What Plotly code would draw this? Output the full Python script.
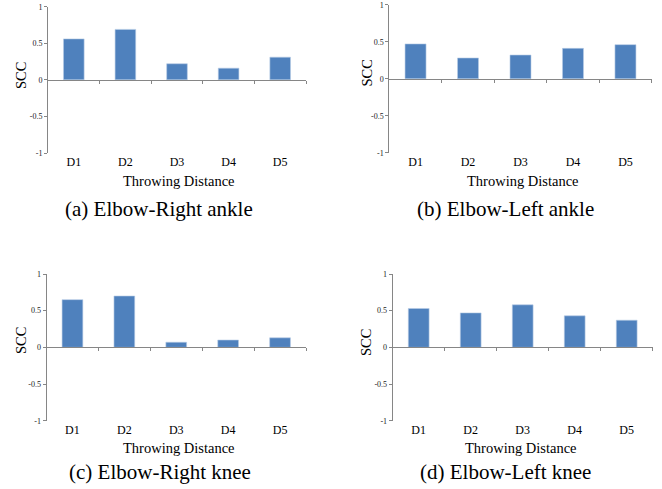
import plotly.graph_objects as go

categories = ["D1", "D2", "D3", "D4", "D5"]
right_ankle = [0.56, 0.69, 0.22, 0.16, 0.31]
left_ankle = [0.47, 0.28, 0.32, 0.41, 0.46]
right_knee = [0.65, 0.70, 0.07, 0.10, 0.13]
left_knee = [0.53, 0.47, 0.58, 0.43, 0.37]
captions = ["(a) Elbow-Right ankle", "(b) Elbow-Left ankle",
            "(c) Elbow-Right knee", "(d) Elbow-Left knee"]
y_tickvals = [-1, -0.5, 0, 0.5, 1]
y_ticktext = ["-1", "-0.5", "0", "0.5", "1"]
x_axis_title = "Throwing Distance"
y_axis_title = "SCC"

W, H = 662, 489
FONT = "Liberation Serif, Times New Roman, serif"
BAR = "#4F81BD"
AX = "#868686"

series = [right_ankle, left_ankle, right_knee, left_knee]
# pixel boxes for each panel: (left, right, top, bottom)
boxes = [(48, 306, 6.7, 153), (389.3, 651.7, 4.7, 152.7),
         (46.5, 306, 274, 420.7), (392.7, 652.7, 274, 420.7)]
xtitle_pos = [(179, 180.5), (523, 180.5), (179, 447.5), (521, 448)]
ytitle_pos = [(21, 76), (366.5, 73), (21, 341), (366, 342)]
cap_pos = [(159, 208.5), (505, 208.5), (159.5, 471.5), (505, 471.5)]

fig = go.Figure()
layout = dict(width=W, height=H, margin=dict(l=0, r=0, t=0, b=0, autoexpand=False),
              template="none",
              paper_bgcolor="white", plot_bgcolor="white",
              showlegend=False, bargap=0.6, annotations=[])

for i, (vals, box) in enumerate(zip(series, boxes)):
    n = i + 1
    l, r, t, b = box
    xd = [l / W, r / W]
    yd = [1 - b / H, 1 - t / H]
    fig.add_trace(go.Bar(x=categories, y=vals, marker_color=BAR,
                         marker_line=dict(color="#B9CDE5", width=0.6),
                         xaxis=f"x{n}", yaxis=f"y{n}"))
    layout[f"xaxis{n}"] = dict(domain=xd, anchor=f"y{n}", range=[-0.5, 4.5],
                              automargin=False,
                              showline=False, showgrid=False, zeroline=False,
                              ticks="", tickfont=dict(family=FONT, size=12, color="black"),
                              fixedrange=True)
    layout[f"yaxis{n}"] = dict(domain=yd, anchor=f"x{n}", range=[-1, 1],
                              automargin=False,
                              tickvals=y_tickvals, ticktext=y_ticktext,
                              showline=True, linecolor=AX, linewidth=1,
                              ticks="outside", ticklen=3, tickcolor=AX,
                              showgrid=False, zeroline=False,
                              tickfont=dict(family=FONT, size=8, color="#222"))
    # category axis crossing at zero with boundary ticks
    m = n + 4
    layout[f"xaxis{m}"] = dict(overlaying=f"x{n}", anchor="free",
                              position=(yd[0] + yd[1]) / 2, type="linear",
                              range=[-0.5, 4.5], automargin=False,
                              tickvals=[0.5, 1.5, 2.5, 3.5, 4.5],
                              showticklabels=False, ticks="outside", ticklen=3,
                              tickcolor=AX, showline=True, linecolor=AX,
                              linewidth=1, showgrid=False, zeroline=False)
    fig.add_trace(go.Scatter(x=[None], y=[None], xaxis=f"x{m}", yaxis=f"y{n}",
                             hoverinfo="skip", showlegend=False))
    xt, yt = xtitle_pos[i]
    layout["annotations"].append(dict(text=x_axis_title, x=xt / W, y=1 - yt / H,
                                      xref="paper", yref="paper", showarrow=False,
                                      xanchor="center", yanchor="middle",
                                      font=dict(family=FONT, size=14.5, color="black")))
    sx, sy = ytitle_pos[i]
    layout["annotations"].append(dict(text=y_axis_title, x=sx / W, y=1 - sy / H,
                                      xref="paper", yref="paper", showarrow=False,
                                      textangle=-90, xanchor="center", yanchor="middle",
                                      font=dict(family=FONT, size=14.5, color="black")))
    cx, cy = cap_pos[i]
    layout["annotations"].append(dict(text=captions[i], x=cx / W, y=1 - cy / H,
                                      xref="paper", yref="paper", showarrow=False,
                                      xanchor="center", yanchor="middle",
                                      font=dict(family=FONT, size=21, color="black")))

fig.update_layout(**layout)
fig.write_html("out.html", config={"displayModeBar": False},
               post_script="document.body.style.margin='0';")
